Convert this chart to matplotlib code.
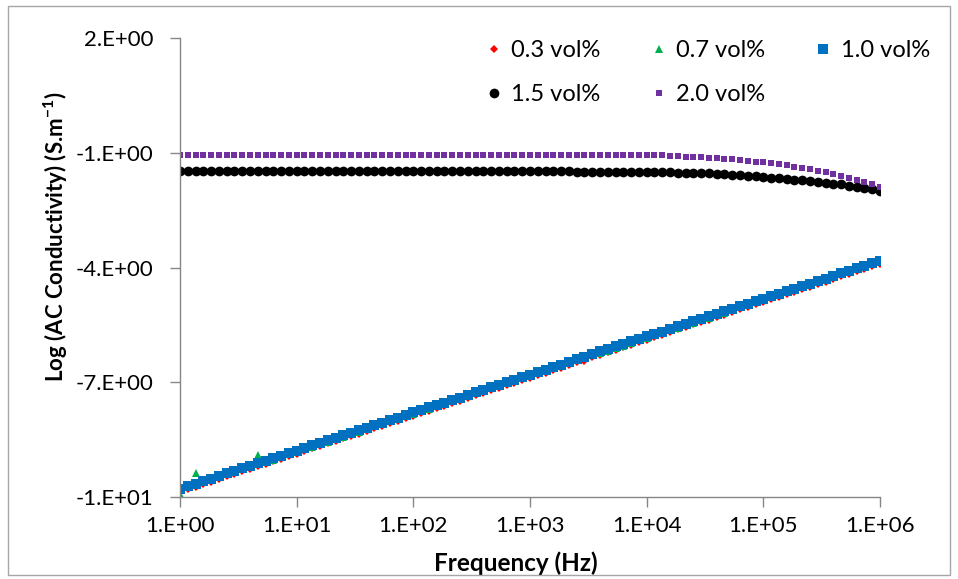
import matplotlib
matplotlib.use('Agg')
import matplotlib.pyplot as plt
from matplotlib.patches import Rectangle
from matplotlib.ticker import FixedLocator, FixedFormatter, NullLocator

plt.rcParams['font.family'] = ['Lato', 'DejaVu Sans']
plt.rcParams['mathtext.fontset'] = 'custom'
plt.rcParams['mathtext.rm'] = 'Lato'
plt.rcParams['mathtext.bf'] = 'Lato:bold'

# frequency points (Hz), 15 per decade
freq_hz = [
    1.000, 1.166, 1.359, 1.585, 1.848, 2.154, 2.512, 2.929, 3.415, 3.981, 4.642, 5.412, 6.310, 7.356, 8.577,
    10.00, 11.66, 13.59, 15.85, 18.48, 21.54, 25.12, 29.29, 34.15, 39.81, 46.42, 54.12, 63.10, 73.56, 85.77,
    100.0, 116.6, 135.9, 158.5, 184.8, 215.4, 251.2, 292.9, 341.5, 398.1, 464.2, 541.2, 631.0, 735.6, 857.7,
    1000, 1166, 1359, 1585, 1848, 2154, 2512, 2929, 3415, 3981, 4642, 5412, 6310, 7356, 8577,
    1.000e4, 1.166e4, 1.359e4, 1.585e4, 1.848e4, 2.154e4, 2.512e4, 2.929e4, 3.415e4, 3.981e4,
    4.642e4, 5.412e4, 6.310e4, 7.356e4, 8.577e4,
    1.000e5, 1.166e5, 1.359e5, 1.585e5, 1.848e5, 2.154e5, 2.512e5, 2.929e5, 3.415e5, 3.981e5,
    4.642e5, 5.412e5, 6.310e5, 7.356e5, 8.577e5,
    1.000e6,
]

# log AC conductivity for each loading
cond_03 = [
    -9.87, -9.80, -9.73, -9.66, -9.60, -9.53, -9.46, -9.40, -9.33, -9.26, -9.20, -9.13, -9.07, -9.00, -8.93,
    -8.87, -8.80, -8.73, -8.67, -8.60, -8.54, -8.47, -8.40, -8.34, -8.27, -8.20, -8.14, -8.07, -8.01, -7.94,
    -7.87, -7.81, -7.74, -7.68, -7.61, -7.54, -7.48, -7.41, -7.34, -7.28,
    -7.21, -7.15, -7.08, -7.01, -6.95, -6.88, -6.81, -6.75, -6.68, -6.62,
    -6.55, -6.48, -6.45, -6.35, -6.29, -6.22, -6.15, -6.09, -6.02, -5.95,
    -5.89, -5.82, -5.76, -5.69, -5.62, -5.56, -5.49, -5.43, -5.36, -5.29,
    -5.23, -5.16, -5.09, -5.03, -4.96, -4.90, -4.83, -4.76, -4.70, -4.63,
    -4.56, -4.50, -4.43, -4.37, -4.30, -4.23, -4.17, -4.10, -4.04, -3.97,
    -3.90,
]
cond_07 = [
    -9.93, -9.74, -9.37, -9.61, -9.55, -9.48, -9.41, -9.35, -9.28, -9.21, -8.90, -9.08, -9.02, -8.95, -8.88,
    -8.82, -8.75, -8.68, -8.62, -8.55, -8.49, -8.42, -8.35, -8.29, -8.22, -8.15, -8.09, -8.02, -7.96, -7.89,
    -7.82, -7.76, -7.69, -7.63, -7.56, -7.49, -7.43, -7.36, -7.29, -7.23,
    -7.16, -7.10, -7.03, -6.96, -6.90, -6.83, -6.76, -6.70, -6.63, -6.57,
    -6.50, -6.43, -6.37, -6.30, -6.24, -6.17, -6.10, -6.04, -5.97, -5.90,
    -5.84, -5.77, -5.71, -5.64, -5.57, -5.51, -5.44, -5.38, -5.31, -5.24,
    -5.18, -5.11, -5.04, -4.98, -4.91, -4.85, -4.78, -4.71, -4.65, -4.58,
    -4.51, -4.45, -4.38, -4.32, -4.25, -4.18, -4.12, -4.05, -3.99, -3.92,
    -3.85,
]
cond_10 = [
    -9.78, -9.71, -9.65, -9.58, -9.52, -9.45, -9.38, -9.32, -9.25, -9.18, -9.12, -9.05, -8.99, -8.92, -8.85,
    -8.79, -8.72, -8.65, -8.59, -8.52, -8.46, -8.39, -8.32, -8.26, -8.19, -8.12, -8.06, -7.99, -7.93, -7.86,
    -7.79, -7.73, -7.66, -7.60, -7.53, -7.46, -7.40, -7.33, -7.26, -7.20,
    -7.13, -7.07, -7.00, -6.93, -6.87, -6.80, -6.73, -6.67, -6.60, -6.54,
    -6.47, -6.40, -6.34, -6.25, -6.19, -6.13, -6.06, -6.00, -5.93, -5.87,
    -5.80, -5.74, -5.68, -5.61, -5.54, -5.48, -5.41, -5.35, -5.28, -5.21,
    -5.15, -5.08, -5.01, -4.95, -4.88, -4.82, -4.75, -4.68, -4.62, -4.55,
    -4.48, -4.42, -4.35, -4.29, -4.22, -4.15, -4.09, -4.02, -3.96, -3.89,
    -3.82,
]
cond_15 = [
    -1.48, -1.48, -1.48, -1.48, -1.48, -1.48, -1.48, -1.48, -1.48, -1.48, -1.48, -1.48, -1.48, -1.48, -1.48,
    -1.48, -1.48, -1.48, -1.48, -1.48, -1.48, -1.49, -1.49, -1.49, -1.49, -1.49, -1.49, -1.49, -1.49, -1.49,
    -1.49, -1.49, -1.49, -1.49, -1.49, -1.49, -1.49, -1.49, -1.49, -1.49,
    -1.49, -1.49, -1.49, -1.49, -1.49, -1.49, -1.49, -1.49, -1.49, -1.49,
    -1.49, -1.50, -1.50, -1.50, -1.50, -1.50, -1.50, -1.50, -1.50, -1.50,
    -1.50, -1.50, -1.51, -1.51, -1.52, -1.52, -1.53, -1.54, -1.54, -1.55,
    -1.56, -1.58, -1.59, -1.60, -1.62, -1.63, -1.65, -1.66, -1.68, -1.70,
    -1.72, -1.74, -1.76, -1.78, -1.81, -1.83, -1.86, -1.89, -1.92, -1.95,
    -1.99,
]
cond_20 = [
    -1.05, -1.05, -1.05, -1.05, -1.05, -1.05, -1.05, -1.05, -1.05, -1.05, -1.05, -1.05, -1.05, -1.05, -1.05,
    -1.05, -1.05, -1.05, -1.05, -1.05, -1.05, -1.05, -1.05, -1.05, -1.05, -1.05, -1.05, -1.05, -1.05, -1.05,
    -1.05, -1.05, -1.05, -1.05, -1.05, -1.05, -1.05, -1.05, -1.05, -1.05,
    -1.05, -1.05, -1.05, -1.05, -1.05, -1.05, -1.05, -1.05, -1.05, -1.05,
    -1.05, -1.06, -1.06, -1.06, -1.06, -1.06, -1.06, -1.06, -1.06, -1.07,
    -1.07, -1.07, -1.07, -1.08, -1.09, -1.10, -1.11, -1.12, -1.13, -1.14,
    -1.16, -1.17, -1.19, -1.21, -1.23, -1.25, -1.28, -1.30, -1.33, -1.36,
    -1.40, -1.43, -1.47, -1.51, -1.56, -1.60, -1.65, -1.70, -1.76, -1.82,
    -1.89,
]

series_labels = ['0.3 vol%', '0.7 vol%', '1.0 vol%', '1.5 vol%', '2.0 vol%']

x_ticks = [1e0, 1e1, 1e2, 1e3, 1e4, 1e5, 1e6]
x_tick_labels = ['1.E+00', '1.E+01', '1.E+02', '1.E+03', '1.E+04', '1.E+05', '1.E+06']
y_ticks = [-10, -7, -4, -1, 2]
y_tick_labels = ['-1.E+01', '-7.E+00', '-4.E+00', '-1.E+00', '2.E+00']

W, H = 958, 579
fig = plt.figure(figsize=(W / 100, H / 100), dpi=100)
ax = fig.add_axes([180 / W, 1 - 497 / H, 700 / W, 459 / H])

# marker style per series
styles = [
    dict(marker='D', color='#FF0000', ms=4.0),
    dict(marker='^', color='#00B050', ms=6.0),
    dict(marker='s', color='#0070C0', ms=7.5),
    dict(marker='o', color='#000000', ms=7.0),
    dict(marker='s', color='#7030A0', ms=4.4),
]
all_data = [cond_03, cond_07, cond_10, cond_15, cond_20]
handles = []
for yvals, lab, st in zip(all_data, series_labels, styles):
    h, = ax.plot(freq_hz, yvals, linestyle='none', marker=st['marker'],
                 color=st['color'], markersize=st['ms'], markeredgewidth=0, label=lab)
    handles.append(h)

ax.set_xscale('log')
ax.set_xlim(1, 1e6)
ax.set_ylim(-10, 2)
ax.xaxis.set_major_locator(FixedLocator(x_ticks))
ax.xaxis.set_major_formatter(FixedFormatter(x_tick_labels))
ax.xaxis.set_minor_locator(NullLocator())
ax.yaxis.set_major_locator(FixedLocator(y_ticks))
ax.yaxis.set_major_formatter(FixedFormatter(y_tick_labels))

for s in ['top', 'right']:
    ax.spines[s].set_visible(False)
for s in ['left', 'bottom']:
    ax.spines[s].set_color('#868686')
    ax.spines[s].set_linewidth(1.0)
ax.tick_params(axis='both', direction='out', length=7, width=1.0, color='#868686',
               labelsize=16, labelcolor='#000000')
ax.tick_params(axis='y', pad=12)
ax.tick_params(axis='x', pad=7)

ax.set_xlabel('Frequency (Hz)', fontsize=17.5, fontweight='bold')
ax.xaxis.set_label_coords(0.48, -0.118)
ax.set_ylabel('Log (AC Conductivity) (S.m$^{\\mathbf{-1}}$)', fontsize=16, fontweight='bold')
ax.yaxis.set_label_coords(-0.157, 0.567)

# legend: column-major order so rows read 0.3/0.7/1.0 then 1.5/2.0
order = [0, 3, 1, 4, 2]
fig.legend([handles[i] for i in order], [series_labels[i] for i in order],
           loc='upper left', bbox_to_anchor=(476 / W, 1 - 31 / H), ncol=3, frameon=False,
           fontsize=17, handlelength=0.7, handletextpad=0.4, columnspacing=2.1,
           labelspacing=0.95, markerscale=1.0, borderaxespad=0)

# outer chart border
fig.patches.append(Rectangle((8 / W, 4 / H), 942 / W, 569 / H, transform=fig.transFigure,
                             fill=False, edgecolor='#a6a6a6', linewidth=1.0))

fig.savefig('out.png', dpi=100)
